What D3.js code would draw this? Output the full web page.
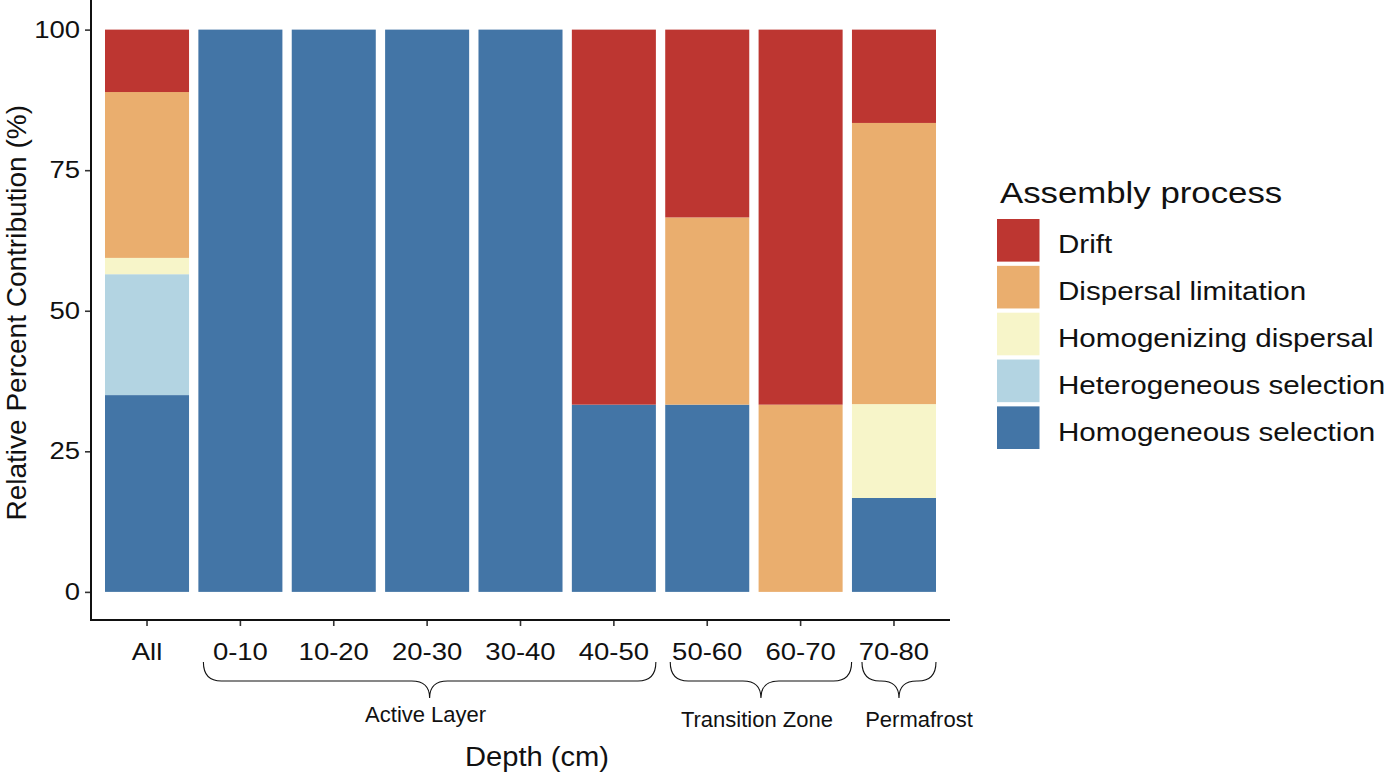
<!DOCTYPE html>
<html>
<head>
<meta charset="utf-8">
<script src="https://cdn.jsdelivr.net/npm/d3@7"></script>
<style>
  body { margin: 0; background: #fff; }
  svg { display: block; font-family: "Liberation Sans", Arial, sans-serif; }
  .wide { transform-box: fill-box; transform-origin: center; transform: scaleX(1.17); }
  .wide-end { transform-box: fill-box; transform-origin: right center; transform: scaleX(1.17); }
  .wide-start { transform-box: fill-box; transform-origin: left center; transform: scaleX(1.16); }
  .title-x { transform-box: fill-box; transform-origin: center; transform: scaleX(1.06); }
</style>
</head>
<body>
<svg id="chart" width="1395" height="776"></svg>
<script>
const categories = ["All", "0-10", "10-20", "20-30", "30-40", "40-50", "50-60", "60-70", "70-80"];

// stacked bottom to top
const homogeneousSelection = [35.0, 100, 100, 100, 100, 33.3, 33.3, 0, 16.7];
const heterogeneousSelection = [21.5, 0, 0, 0, 0, 0, 0, 0, 0];
const homogenizingDispersal = [2.9, 0, 0, 0, 0, 0, 0, 0, 16.7];
const dispersalLimitation = [29.5, 0, 0, 0, 0, 0, 33.3, 33.3, 50.0];
const drift = [11.1, 0, 0, 0, 0, 66.7, 33.4, 66.7, 16.6];

const processes = ["Homogeneous selection", "Heterogeneous selection", "Homogenizing dispersal", "Dispersal limitation", "Drift"];
const processColors = ["#4375a6", "#b3d4e2", "#f7f5c9", "#eaae6e", "#bd3631"];
const yTicks = [0, 25, 50, 75, 100];

const zoneGroups = [
  { label: "Active Layer", from: "0-10", to: "40-50" },
  { label: "Transition Zone", from: "50-60", to: "60-70" },
  { label: "Permafrost", from: "70-80", to: "70-80" }
];

const seriesValues = [homogeneousSelection, heterogeneousSelection, homogenizingDispersal, dispersalLimitation, drift];
const rows = categories.map((cat, i) => {
  const row = { category: cat };
  processes.forEach((p, k) => { row[p] = seriesValues[k][i]; });
  return row;
});

const svg = d3.select("#chart");
const panel = { left: 91, right: 950, top: 1.5, bottom: 620 };

const x = d3.scaleBand().domain(categories).range([panel.left, panel.right]).paddingInner(0.1).paddingOuter(0.15);
const y = d3.scaleLinear().domain([-5, 105]).range([panel.bottom, panel.top]);
const color = d3.scaleOrdinal().domain(processes).range(processColors);

const stacked = d3.stack().keys(processes)(rows);

svg.append("g")
  .selectAll("g")
  .data(stacked)
  .join("g")
  .attr("fill", (d) => color(d.key))
  .selectAll("rect")
  .data((d) => d.filter((s) => s[1] - s[0] > 0))
  .join("rect")
  .attr("x", (d) => x(d.data.category))
  .attr("width", x.bandwidth())
  .attr("y", (d) => y(d[1]))
  .attr("height", (d) => y(d[0]) - y(d[1]));

// y axis
const yAxis = svg.append("g")
  .attr("transform", `translate(${panel.left},0)`)
  .call(d3.axisLeft(y).tickValues(yTicks).tickSize(6).tickPadding(5));
yAxis.select(".domain").remove();
yAxis.selectAll(".tick line").attr("stroke", "#333").attr("stroke-width", 1.6);
yAxis.selectAll(".tick text")
  .attr("class", "wide-end")
  .attr("fill", "#111")
  .attr("font-size", 23.5)
  .attr("x", -11);

// x axis
const xAxis = svg.append("g")
  .attr("transform", `translate(0,${panel.bottom})`)
  .call(d3.axisBottom(x).tickSize(6).tickPadding(0));
xAxis.select(".domain").remove();
xAxis.selectAll(".tick line").attr("stroke", "#333").attr("stroke-width", 1.6);
xAxis.selectAll(".tick text")
  .attr("class", "wide")
  .attr("fill", "#111")
  .attr("font-size", 23.5)
  .attr("dy", null)
  .attr("y", 40);

// axis lines
svg.append("line")
  .attr("x1", panel.left).attr("x2", panel.left)
  .attr("y1", 0).attr("y2", panel.bottom + 1)
  .attr("stroke", "#111").attr("stroke-width", 2);
svg.append("line")
  .attr("x1", panel.left - 1).attr("x2", panel.right)
  .attr("y1", panel.bottom).attr("y2", panel.bottom)
  .attr("stroke", "#111").attr("stroke-width", 2);

// axis titles
svg.append("text")
  .attr("transform", `translate(25.5,${(panel.top + panel.bottom) / 2 + 2}) rotate(-90)`)
  .attr("text-anchor", "middle")
  .attr("font-size", 28)
  .attr("fill", "#111")
  .text("Relative Percent Contribution (%)");

svg.append("text")
  .attr("class", "title-x")
  .attr("x", 537)
  .attr("y", 766)
  .attr("text-anchor", "middle")
  .attr("font-size", 27.5)
  .attr("fill", "#111")
  .text("Depth (cm)");

// zone braces under the depth labels
const braceTop = 662;
const braceMid = 681;
const braceTip = 698;
const braceRadius = 18;

const bracePath = (x0, x1) => {
  const mid = (x0 + x1) / 2;
  const r = Math.min(braceRadius, (x1 - x0) / 4);
  const p = d3.path();
  p.moveTo(x0, braceTop);
  p.quadraticCurveTo(x0, braceMid, x0 + r, braceMid);
  p.lineTo(mid - r, braceMid);
  p.quadraticCurveTo(mid, braceMid, mid, braceTip);
  p.quadraticCurveTo(mid, braceMid, mid + r, braceMid);
  p.lineTo(x1 - r, braceMid);
  p.quadraticCurveTo(x1, braceMid, x1, braceTop);
  return p.toString();
};

const braces = svg.append("g");
zoneGroups.forEach((g) => {
  const single = g.from === g.to;
  const x0 = x(g.from) + x.bandwidth() / 2 - (single ? 32 : 37);
  const x1 = x(g.to) + x.bandwidth() / 2 + (g.label === "Transition Zone" ? 51 : 42);
  braces.append("path")
    .attr("d", bracePath(x0, x1))
    .attr("fill", "none")
    .attr("stroke", "#111")
    .attr("stroke-width", 1.1);
  braces.append("text")
    .attr("x", (x0 + x1) / 2 + (single ? 20 : -4))
    .attr("y", g.label === "Active Layer" ? 722 : 727)
    .attr("text-anchor", "middle")
    .attr("font-size", 22)
    .attr("fill", "#111")
    .text(g.label);
});

// legend
const legend = svg.append("g");
legend.append("text")
  .attr("class", "wide-start")
  .attr("x", 1000)
  .attr("y", 203)
  .attr("font-size", 30)
  .attr("fill", "#111")
  .text("Assembly process");

const legendOrder = processes.slice().reverse();
const keyY = d3.scaleBand().domain(legendOrder).range([219, 449]).paddingInner(0.09);

legend.selectAll("rect")
  .data(legendOrder)
  .join("rect")
  .attr("x", 997)
  .attr("y", (d) => keyY(d))
  .attr("width", 42.5)
  .attr("height", keyY.bandwidth())
  .attr("fill", (d) => color(d));

legend.selectAll("text.key")
  .data(legendOrder)
  .join("text")
  .attr("class", "key wide-start")
  .attr("x", 1058)
  .attr("y", (d) => keyY(d) + keyY.bandwidth() / 2 + 13)
  .attr("font-size", 25.5)
  .attr("fill", "#111")
  .text((d) => d);
</script>
</body>
</html>
